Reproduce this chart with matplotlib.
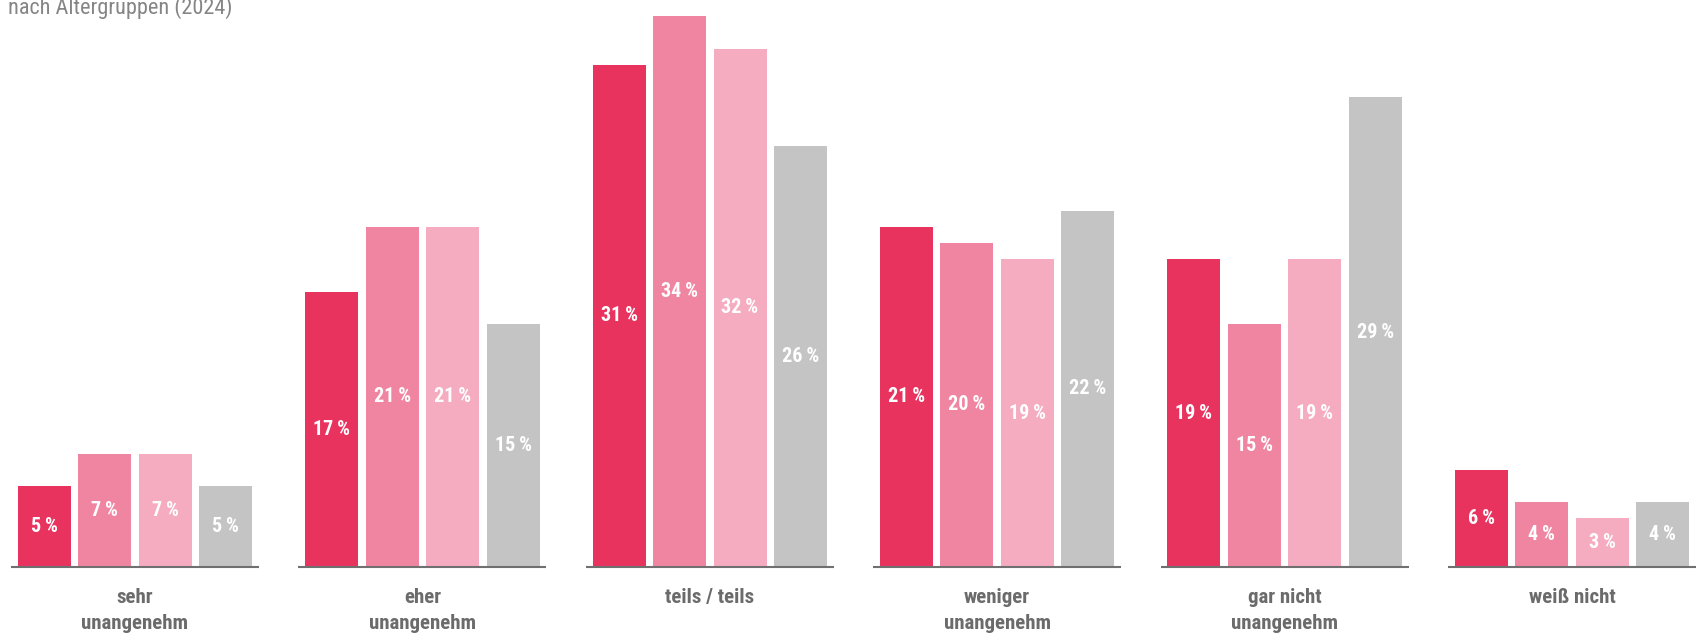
import matplotlib
matplotlib.use("Agg")
import matplotlib.pyplot as plt
from matplotlib import font_manager as fm

categories = ["sehr\nunangenehm", "eher\nunangenehm", "teils / teils",
              "weniger\nunangenehm", "gar nicht\nunangenehm", "weiß nicht"]
series_a = [5, 17, 31, 21, 19, 6]
series_b = [7, 21, 34, 20, 15, 4]
series_c = [7, 21, 32, 19, 19, 3]
series_d = [5, 15, 26, 22, 29, 4]
series = [series_a, series_b, series_c, series_d]
colors = ["#E8335F", "#F085A1", "#F5ACC0", "#C4C4C4"]
subtitle = "nach Altergruppen (2024)"

names = {f.name for f in fm.fontManager.ttflist}
font = "Roboto"
for cand in ["Liberation Sans Narrow", "DejaVu Sans Condensed", "Roboto Condensed"]:
    if cand in names:
        font = cand
        break
plt.rcParams["font.family"] = [font, "DejaVu Sans"]

W, H = 1705, 635
fig = plt.figure(figsize=(W / 100, H / 100), dpi=100)
base_px = 567
ax = fig.add_axes([0, (H - base_px) / H, 1, base_px / H])
group_px = 287.4
center0 = 135
ax.set_xlim(-center0 / group_px, (W - center0) / group_px)
ax.set_ylim(0, base_px / 16.2)

bw = 53 / group_px
pitch = 60.5 / group_px
offsets = [(j - 1.5) * pitch for j in range(4)]
for j, vals in enumerate(series):
    xs = [i + offsets[j] for i in range(len(vals))]
    ax.bar(xs, vals, width=bw, color=colors[j], linewidth=0)
    for x, v in zip(xs, vals):
        ax.text(x, v / 2, f"{v}\u2009%", ha="center", va="center", color="white",
                fontsize=14.5, fontweight="bold")

half = 124 / group_px
for i in range(len(categories)):
    ax.plot([i - half, i + half], [0, 0], color="#707070", lw=1.5,
            clip_on=False, solid_capstyle="butt")

ax.set_xticks(range(len(categories)))
ax.set_xticklabels(categories, fontsize=15, fontweight="bold", color="#6b6b6b",
                   linespacing=1.45, va="top")
ax.tick_params(axis="x", length=0, pad=15)
ax.set_yticks([])
for s in ax.spines.values():
    s.set_visible(False)

fig.text(8 / W, 1 - 13.5 / H, subtitle, ha="left", va="baseline",
         fontsize=16, color="#858585")

fig.savefig("out.png", dpi=100)
